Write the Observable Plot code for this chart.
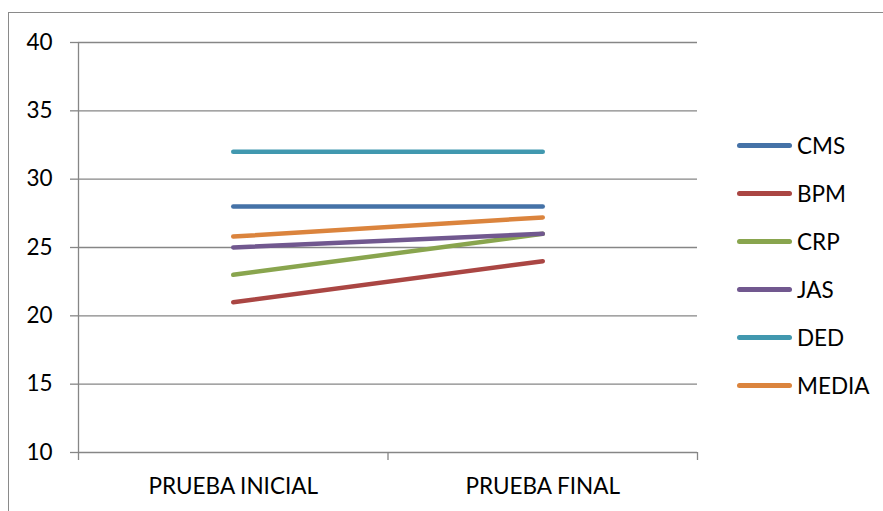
<!DOCTYPE html>
<html>
<head>
<meta charset="utf-8">
<script src="https://cdn.jsdelivr.net/npm/d3@7"></script>
<script src="https://cdn.jsdelivr.net/npm/@observablehq/plot@0.6"></script>
<style>
  html, body { margin: 0; padding: 0; background: #fff; overflow: hidden; width: 883px; height: 511px; }
  #wrap { position: relative; width: 883px; height: 511px; font-family: Lato, "Open Sans", sans-serif; color: #000; }
  #border { position: absolute; left: 8px; top: 12px; width: 900px; height: 600px; border: 1px solid #8a8a8a; }
  #chart { position: absolute; left: 0; top: 0; }
  #legend { position: absolute; left: 737px; top: 121px; }
  .item { display: flex; align-items: center; height: 48px; font-size: 22.5px; }
  .swatch { width: 55px; height: 5px; border-radius: 2.5px; margin-right: 5px; }
</style>
</head>
<body>
<div id="wrap">
  <div id="border"></div>
  <div id="chart"></div>
  <div id="legend"></div>
</div>
<script>
// Test phases on the x axis
const categories = ["PRUEBA INICIAL", "PRUEBA FINAL"];

// Series, in drawing order, and their colours
const seriesNames = ["CMS", "BPM", "CRP", "JAS", "DED", "MEDIA"];
const seriesColors = ["#4572A7", "#AA4643", "#89A54E", "#71588F", "#4198AF", "#DB843D"];

// Scores per series: [initial, final]
const CMS = [28, 28];
const BPM = [21, 24];
const CRP = [23, 26];
const JAS = [25, 26];
const DED = [32, 32];
const MEDIA = [25.8, 27.2];

// Y axis ticks
const yTicks = [10, 15, 20, 25, 30, 35, 40];

const seriesValues = [CMS, BPM, CRP, JAS, DED, MEDIA];

// Long-format table; each category sits at the middle of its slot on the x scale
const rows = seriesNames.flatMap((name, k) =>
  seriesValues[k].map((v, i) => ({ series: name, pos: i + 0.5, value: v }))
);
const slotEdges = d3.range(categories.length + 1);
const slotCenters = categories.map((_, i) => i + 0.5);

const gridColor = "#868686";

const chart = Plot.plot({
  width: 883,
  height: 511,
  marginLeft: 78,
  marginRight: 186,
  marginTop: 42,
  marginBottom: 59,
  x: { domain: [0, categories.length] },
  y: { domain: [10, 40] },
  color: { domain: seriesNames, range: seriesColors },
  style: { fontFamily: "Lato, 'Open Sans', sans-serif", fontSize: "22.5px", color: "#000", background: "transparent", overflow: "visible" },
  marks: [
    Plot.gridY(yTicks, { stroke: gridColor, strokeOpacity: 1, strokeWidth: 1.3 }),
    Plot.axisY(yTicks, { tickSize: 8, tickPadding: 18, stroke: gridColor, strokeWidth: 1.3, label: null, fill: "#000" }),
    Plot.ruleX([0], { stroke: gridColor, strokeWidth: 1.3 }),
    Plot.axisX(slotEdges, { tickSize: 8, tickFormat: () => "", stroke: gridColor, strokeWidth: 1.3, label: null }),
    Plot.axisX(slotCenters, { tickSize: 0, tickPadding: 26, tickFormat: d => categories[Math.floor(d)], label: null, fill: "#000" }),
    Plot.line(rows, { x: "pos", y: "value", z: "series", stroke: "series", strokeWidth: 4.5, strokeLinecap: "round" })
  ]
});
document.getElementById("chart").append(chart);

// Legend on the right
const legend = document.getElementById("legend");
seriesNames.forEach((name, k) => {
  const item = document.createElement("div");
  item.className = "item";
  const sw = document.createElement("div");
  sw.className = "swatch";
  sw.style.background = seriesColors[k];
  const label = document.createElement("span");
  label.textContent = name;
  item.append(sw, label);
  legend.append(item);
});
</script>
</body>
</html>
